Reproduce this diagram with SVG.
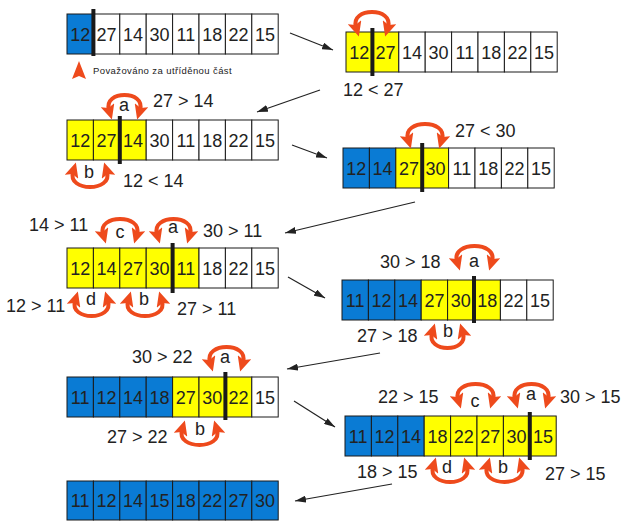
<svg xmlns="http://www.w3.org/2000/svg" width="632" height="527" viewBox="0 0 632 527">
<style>
text{font-family:"Liberation Sans","DejaVu Sans",sans-serif;fill:#222}
.n{font-size:18px;text-anchor:middle}
.l{font-size:18px}
.k{font-size:18px;text-anchor:middle}
.b{fill:#0a7bd4;stroke:#1a1a1a;stroke-width:1}
.y{fill:#ffff00;stroke:#1a1a1a;stroke-width:1}
.w{fill:#fff;stroke:#1a1a1a;stroke-width:1}
.dv{stroke:#1a1a1a;stroke-width:4}
.arc{fill:none;stroke:#ee4a1c;stroke-width:4;marker-start:url(#oh);marker-end:url(#oh)}
.con{fill:none;stroke:#222;stroke-width:1.2;marker-end:url(#bh)}
</style>
<defs>
<marker id="oh" viewBox="0 0 15 14" markerWidth="15" markerHeight="14" refX="5" refY="7" markerUnits="userSpaceOnUse" orient="auto-start-reverse">
<path d="M0,0 L15,7 L0,14 L3,7 z" fill="#ee4a1c"/>
</marker>
<marker id="bh" viewBox="0 0 11 7" markerWidth="11" markerHeight="7" refX="11" refY="3.5" markerUnits="userSpaceOnUse" orient="auto">
<path d="M0,0 L11,3.5 L0,7 z" fill="#222"/>
</marker>
</defs>

<g id="connectors">
<line class="con" x1="290" y1="33" x2="333" y2="50"/>
<line class="con" x1="320" y1="90" x2="257" y2="112"/>
<line class="con" x1="292" y1="145" x2="327" y2="158"/>
<line class="con" x1="415" y1="202" x2="285" y2="233"/>
<line class="con" x1="288" y1="277" x2="325" y2="298"/>
<line class="con" x1="380" y1="353" x2="287" y2="369"/>
<line class="con" x1="294" y1="401" x2="335" y2="427"/>
<line class="con" x1="392" y1="484" x2="295" y2="501"/>
</g>

<g id="step1">
<g transform="translate(67,14)">
<rect class="b" x="0" y="0" width="26.4" height="40"/><rect class="w" x="26.4" y="0" width="26.4" height="40"/><rect class="w" x="52.8" y="0" width="26.4" height="40"/><rect class="w" x="79.2" y="0" width="26.4" height="40"/><rect class="w" x="105.6" y="0" width="26.4" height="40"/><rect class="w" x="132" y="0" width="26.4" height="40"/><rect class="w" x="158.4" y="0" width="26.4" height="40"/><rect class="w" x="184.8" y="0" width="26.4" height="40"/>
<text class="n" x="13.2" y="27">12</text><text class="n" x="39.6" y="27">27</text><text class="n" x="66" y="27">14</text><text class="n" x="92.4" y="27">30</text><text class="n" x="118.8" y="27">11</text><text class="n" x="145.2" y="27">18</text><text class="n" x="171.6" y="27">22</text><text class="n" x="198" y="27">15</text>
<line class="dv" x1="26.4" y1="-5" x2="26.4" y2="42"/>
</g>
<path d="M79,61 L86,79 L79,76 L72,79 z" fill="#ee4a1c"/>
<text x="93" y="74" style="font-size:9.5px" letter-spacing="0.4">Považováno za utříděnou část</text>
</g>

<g id="step2">
<g transform="translate(346,32)">
<rect class="y" x="0" y="0" width="26.4" height="40"/><rect class="y" x="26.4" y="0" width="26.4" height="40"/><rect class="w" x="52.8" y="0" width="26.4" height="40"/><rect class="w" x="79.2" y="0" width="26.4" height="40"/><rect class="w" x="105.6" y="0" width="26.4" height="40"/><rect class="w" x="132" y="0" width="26.4" height="40"/><rect class="w" x="158.4" y="0" width="26.4" height="40"/><rect class="w" x="184.8" y="0" width="26.4" height="40"/>
<text class="n" x="13.2" y="27">12</text><text class="n" x="39.6" y="27">27</text><text class="n" x="66" y="27">14</text><text class="n" x="92.4" y="27">30</text><text class="n" x="118.8" y="27">11</text><text class="n" x="145.2" y="27">18</text><text class="n" x="171.6" y="27">22</text><text class="n" x="198" y="27">15</text>
<line class="dv" x1="26.4" y1="-4" x2="26.4" y2="44"/>
</g>
<path class="arc" d="M356,27 C350,7 394,7 388,27"/>
<text class="l" x="343" y="96">12 &lt; 27</text>
</g>

<g id="step3">
<g transform="translate(67,120)">
<rect class="y" x="0" y="0" width="26.4" height="40"/><rect class="y" x="26.4" y="0" width="26.4" height="40"/><rect class="y" x="52.8" y="0" width="26.4" height="40"/><rect class="w" x="79.2" y="0" width="26.4" height="40"/><rect class="w" x="105.6" y="0" width="26.4" height="40"/><rect class="w" x="132" y="0" width="26.4" height="40"/><rect class="w" x="158.4" y="0" width="26.4" height="40"/><rect class="w" x="184.8" y="0" width="26.4" height="40"/>
<text class="n" x="13.2" y="27">12</text><text class="n" x="39.6" y="27">27</text><text class="n" x="66" y="27">14</text><text class="n" x="92.4" y="27">30</text><text class="n" x="118.8" y="27">11</text><text class="n" x="145.2" y="27">18</text><text class="n" x="171.6" y="27">22</text><text class="n" x="198" y="27">15</text>
<line class="dv" x1="52.8" y1="-4" x2="52.8" y2="44"/>
</g>
<path class="arc" d="M109,110 C103,90 146,90 140,110"/>
<text class="k" x="124" y="111">a</text>
<path class="arc" d="M73,172 C67,192 113,192 107,172"/>
<text class="k" x="89" y="178">b</text>
<text class="l" x="153" y="107">27 &gt; 14</text>
<text class="l" x="123" y="187">12 &lt; 14</text>
</g>

<g id="step4">
<g transform="translate(343,148)">
<rect class="b" x="0" y="0" width="26.4" height="40"/><rect class="b" x="26.4" y="0" width="26.4" height="40"/><rect class="y" x="52.8" y="0" width="26.4" height="40"/><rect class="y" x="79.2" y="0" width="26.4" height="40"/><rect class="w" x="105.6" y="0" width="26.4" height="40"/><rect class="w" x="132" y="0" width="26.4" height="40"/><rect class="w" x="158.4" y="0" width="26.4" height="40"/><rect class="w" x="184.8" y="0" width="26.4" height="40"/>
<text class="n" x="13.2" y="27">12</text><text class="n" x="39.6" y="27">14</text><text class="n" x="66" y="27">27</text><text class="n" x="92.4" y="27">30</text><text class="n" x="118.8" y="27">11</text><text class="n" x="145.2" y="27">18</text><text class="n" x="171.6" y="27">22</text><text class="n" x="198" y="27">15</text>
<line class="dv" x1="79.2" y1="-5" x2="79.2" y2="44"/>
</g>
<path class="arc" d="M408,139 C402,119 448,119 442,139"/>
<text class="l" x="455" y="137">27 &lt; 30</text>
</g>

<g id="step5">
<g transform="translate(67,248)">
<rect class="y" x="0" y="0" width="26.4" height="40"/><rect class="y" x="26.4" y="0" width="26.4" height="40"/><rect class="y" x="52.8" y="0" width="26.4" height="40"/><rect class="y" x="79.2" y="0" width="26.4" height="40"/><rect class="y" x="105.6" y="0" width="26.4" height="40"/><rect class="w" x="132" y="0" width="26.4" height="40"/><rect class="w" x="158.4" y="0" width="26.4" height="40"/><rect class="w" x="184.8" y="0" width="26.4" height="40"/>
<text class="n" x="13.2" y="27">12</text><text class="n" x="39.6" y="27">14</text><text class="n" x="66" y="27">27</text><text class="n" x="92.4" y="27">30</text><text class="n" x="118.8" y="27">11</text><text class="n" x="145.2" y="27">18</text><text class="n" x="171.6" y="27">22</text><text class="n" x="198" y="27">15</text>
<line class="dv" x1="105.6" y1="-5" x2="105.6" y2="45"/>
</g>
<path class="arc" d="M103,234 C97,214 143,214 137,234"/>
<text class="k" x="120" y="238">c</text>
<path class="arc" d="M157,234 C151,214 196,214 190,234"/>
<text class="k" x="173" y="233">a</text>
<path class="arc" d="M75,301 C69,321 114,321 108,301"/>
<text class="k" x="91" y="305">d</text>
<path class="arc" d="M128,301 C122,321 168,321 162,301"/>
<text class="k" x="144" y="305">b</text>
<text class="l" x="29" y="231">14 &gt; 11</text>
<text class="l" x="203" y="237">30 &gt; 11</text>
<text class="l" x="6" y="312">12 &gt; 11</text>
<text class="l" x="177" y="315">27 &gt; 11</text>
</g>

<g id="step6">
<g transform="translate(342,280)">
<rect class="b" x="0" y="0" width="26.4" height="40"/><rect class="b" x="26.4" y="0" width="26.4" height="40"/><rect class="b" x="52.8" y="0" width="26.4" height="40"/><rect class="y" x="79.2" y="0" width="26.4" height="40"/><rect class="y" x="105.6" y="0" width="26.4" height="40"/><rect class="y" x="132" y="0" width="26.4" height="40"/><rect class="w" x="158.4" y="0" width="26.4" height="40"/><rect class="w" x="184.8" y="0" width="26.4" height="40"/>
<text class="n" x="13.2" y="27">11</text><text class="n" x="39.6" y="27">12</text><text class="n" x="66" y="27">14</text><text class="n" x="92.4" y="27">27</text><text class="n" x="118.8" y="27">30</text><text class="n" x="145.2" y="27">18</text><text class="n" x="171.6" y="27">22</text><text class="n" x="198" y="27">15</text>
<line class="dv" x1="132" y1="-4" x2="132" y2="43"/>
</g>
<path class="arc" d="M457,261 C451,241 498,241 492,261"/>
<text class="k" x="474" y="267">a</text>
<path class="arc" d="M432,333 C426,353 469,353 463,333"/>
<text class="k" x="448" y="337">b</text>
<text class="l" x="380" y="268">30 &gt; 18</text>
<text class="l" x="357" y="342">27 &gt; 18</text>
</g>

<g id="step7">
<g transform="translate(67,377)">
<rect class="b" x="0" y="0" width="26.4" height="40"/><rect class="b" x="26.4" y="0" width="26.4" height="40"/><rect class="b" x="52.8" y="0" width="26.4" height="40"/><rect class="b" x="79.2" y="0" width="26.4" height="40"/><rect class="y" x="105.6" y="0" width="26.4" height="40"/><rect class="y" x="132" y="0" width="26.4" height="40"/><rect class="y" x="158.4" y="0" width="26.4" height="40"/><rect class="w" x="184.8" y="0" width="26.4" height="40"/>
<text class="n" x="13.2" y="27">11</text><text class="n" x="39.6" y="27">12</text><text class="n" x="66" y="27">14</text><text class="n" x="92.4" y="27">18</text><text class="n" x="118.8" y="27">27</text><text class="n" x="145.2" y="27">30</text><text class="n" x="171.6" y="27">22</text><text class="n" x="198" y="27">15</text>
<line class="dv" x1="158.4" y1="-5" x2="158.4" y2="43"/>
</g>
<path class="arc" d="M210,362 C204,342 249,342 243,362"/>
<text class="k" x="225" y="363">a</text>
<path class="arc" d="M182,430 C176,450 223,450 217,430"/>
<text class="k" x="200" y="435">b</text>
<text class="l" x="132" y="363">30 &gt; 22</text>
<text class="l" x="107" y="443">27 &gt; 22</text>
</g>

<g id="step8">
<g transform="translate(345,416)">
<rect class="b" x="0" y="0" width="26.4" height="40"/><rect class="b" x="26.4" y="0" width="26.4" height="40"/><rect class="b" x="52.8" y="0" width="26.4" height="40"/><rect class="y" x="79.2" y="0" width="26.4" height="40"/><rect class="y" x="105.6" y="0" width="26.4" height="40"/><rect class="y" x="132" y="0" width="26.4" height="40"/><rect class="y" x="158.4" y="0" width="26.4" height="40"/><rect class="y" x="184.8" y="0" width="26.4" height="40"/>
<text class="n" x="13.2" y="27">11</text><text class="n" x="39.6" y="27">12</text><text class="n" x="66" y="27">14</text><text class="n" x="92.4" y="27">18</text><text class="n" x="118.8" y="27">22</text><text class="n" x="145.2" y="27">27</text><text class="n" x="171.6" y="27">30</text><text class="n" x="198" y="27">15</text>
<line class="dv" x1="184.8" y1="-4" x2="184.8" y2="44"/>
</g>
<path class="arc" d="M458,399 C452,379 499,379 493,399"/>
<text class="k" x="475" y="407">c</text>
<path class="arc" d="M515,399 C509,379 554,379 548,399"/>
<text class="k" x="531" y="400">a</text>
<path class="arc" d="M433,467 C427,487 473,487 467,467"/>
<text class="k" x="447" y="473">d</text>
<path class="arc" d="M487,467 C481,487 528,487 522,467"/>
<text class="k" x="503" y="473">b</text>
<text class="l" x="378" y="403">22 &gt; 15</text>
<text class="l" x="560" y="403">30 &gt; 15</text>
<text class="l" x="357" y="478">18 &gt; 15</text>
<text class="l" x="545" y="480">27 &gt; 15</text>
</g>

<g id="step9">
<g transform="translate(67,481)">
<rect class="b" x="0" y="0" width="26.4" height="39"/><rect class="b" x="26.4" y="0" width="26.4" height="39"/><rect class="b" x="52.8" y="0" width="26.4" height="39"/><rect class="b" x="79.2" y="0" width="26.4" height="39"/><rect class="b" x="105.6" y="0" width="26.4" height="39"/><rect class="b" x="132" y="0" width="26.4" height="39"/><rect class="b" x="158.4" y="0" width="26.4" height="39"/><rect class="b" x="184.8" y="0" width="26.4" height="39"/>
<text class="n" x="13.2" y="26">11</text><text class="n" x="39.6" y="26">12</text><text class="n" x="66" y="26">14</text><text class="n" x="92.4" y="26">15</text><text class="n" x="118.8" y="26">18</text><text class="n" x="145.2" y="26">22</text><text class="n" x="171.6" y="26">27</text><text class="n" x="198" y="26">30</text>
</g>
</g>
</svg>
